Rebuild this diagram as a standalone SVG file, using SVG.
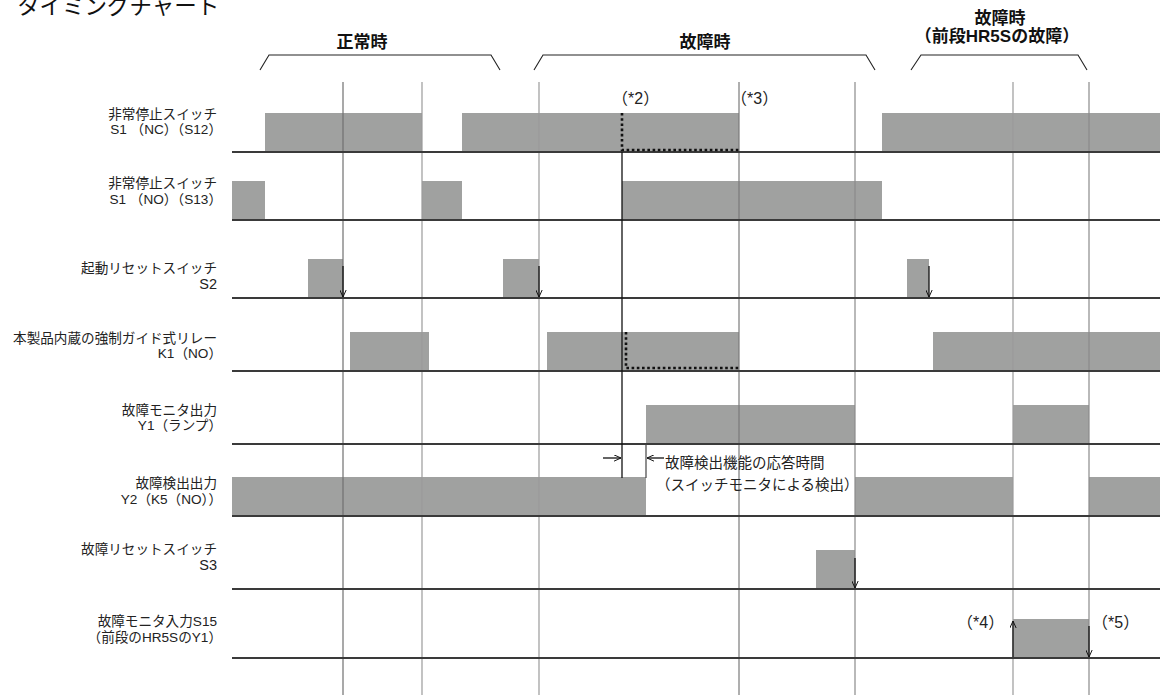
<svg xmlns="http://www.w3.org/2000/svg" width="1160" height="695" viewBox="0 0 1160 695">
<style>
text{font-family:"Liberation Sans","Noto Sans CJK JP",sans-serif;fill:#222}
.lbl{font-size:13.6px;text-anchor:end}
.hd{font-size:17px;font-weight:bold;text-anchor:middle;fill:#111}
.note{font-size:14.5px}
.mark{font-size:16px}
.bar{fill:#a0a1a0}
.base{stroke:#3a3a3a;stroke-width:2;fill:none}
.grid{stroke:#8a8a8a;stroke-width:1.2;fill:none}
.brk{stroke:#222;stroke-width:1.1;fill:none}
.arr{stroke:#111;stroke-width:1.3;fill:none;marker-end:url(#ah)}
.dot{stroke:#111;stroke-width:2.6;stroke-dasharray:2.6 2.6;fill:none}
</style>
<defs>
<marker id="ah" viewBox="0 0 10 10" refX="10" refY="5" markerWidth="8" markerHeight="7" markerUnits="userSpaceOnUse" orient="auto">
<path d="M0,0.5 L10,5 L0,9.5" fill="none" stroke="#111" stroke-width="1.4"/>
</marker>
</defs>
<rect width="1160" height="695" fill="#fff"/>
<text x="17" y="14" style="font-size:22.5px;fill:#111">タイミングチャート</text>
<g id="headers">
<text class="hd" x="362" y="48">正常時</text>
<polyline class="brk" points="260,70 269,55 491,55 500,70"/>
<text class="hd" x="705" y="48">故障時</text>
<polyline class="brk" points="534,70 543,55 866,55 875,70"/>
<text class="hd" x="1000" y="24">故障時</text>
<text class="hd" x="997" y="42">（前段HR5Sの故障）</text>
<polyline class="brk" points="911,70 921,55 1078,55 1087,70"/>
</g>
<g id="row-s12">
<rect class="bar" x="265" y="113" width="157" height="39"/>
<rect class="bar" x="462" y="113" width="277" height="39"/>
<rect class="bar" x="882" y="113" width="278" height="39"/>
<text class="lbl" x="217" y="119">非常停止スイッチ</text>
<text class="lbl" x="222" y="134">S1 （NC）（S12）</text>
</g>
<g id="row-s13">
<rect class="bar" x="232" y="181" width="33" height="39"/>
<rect class="bar" x="422" y="181" width="40" height="39"/>
<rect class="bar" x="622" y="181" width="260" height="39"/>
<text class="lbl" x="217" y="188">非常停止スイッチ</text>
<text class="lbl" x="222" y="204">S1 （NO）（S13）</text>
</g>
<g id="row-s2">
<rect class="bar" x="308" y="259" width="35" height="39"/>
<rect class="bar" x="503" y="259" width="36" height="39"/>
<rect class="bar" x="907" y="259" width="22" height="39"/>
<text class="lbl" x="217" y="273">起動リセットスイッチ</text>
<text class="lbl" x="217" y="289" style="font-size:14.5px">S2</text>
</g>
<g id="row-k1">
<rect class="bar" x="350" y="332" width="79" height="39"/>
<rect class="bar" x="547" y="332" width="192" height="39"/>
<rect class="bar" x="933" y="332" width="227" height="39"/>
<text class="lbl" x="217" y="343">本製品内蔵の強制ガイド式リレー</text>
<text class="lbl" x="222" y="358">K1（NO）</text>
</g>
<g id="row-y1">
<rect class="bar" x="646" y="405" width="209" height="39"/>
<rect class="bar" x="1013" y="405" width="76" height="39"/>
<text class="lbl" x="217" y="415">故障モニタ出力</text>
<text class="lbl" x="222" y="430">Y1（ランプ）</text>
</g>
<g id="row-y2">
<rect class="bar" x="232" y="477" width="414" height="39"/>
<rect class="bar" x="855" y="477" width="158" height="39"/>
<rect class="bar" x="1089" y="477" width="71" height="39"/>
<text class="lbl" x="217" y="488">故障検出出力</text>
<text class="lbl" x="222" y="504">Y2（K5（NO））</text>
</g>
<g id="row-s3">
<rect class="bar" x="816" y="550" width="39" height="39"/>
<text class="lbl" x="217" y="554">故障リセットスイッチ</text>
<text class="lbl" x="217" y="570" style="font-size:14.5px">S3</text>
</g>
<g id="row-s15">
<rect class="bar" x="1013" y="619" width="76" height="39"/>
<text class="lbl" x="217" y="626">故障モニタ入力S15</text>
<text class="lbl" x="222" y="642">（前段のHR5SのY1）</text>
</g>
<g id="grid">
<line class="grid" x1="343" y1="82" x2="343" y2="695" style="stroke:#707070"/>
<line class="grid" x1="422" y1="82" x2="422" y2="695" style="stroke:#9a9a9a"/>
<line class="grid" x1="539" y1="82" x2="539" y2="695" style="stroke:#9a9a9a"/>
<line class="grid" x1="739" y1="82" x2="739" y2="695" style="stroke:#7a7a7a"/>
<line class="grid" x1="855" y1="82" x2="855" y2="695"/>
<line class="grid" x1="1013" y1="82" x2="1013" y2="695" style="stroke:#9a9a9a"/>
<line class="grid" x1="1089" y1="82" x2="1089" y2="695"/>
</g>
<g id="baselines">
<line class="base" x1="232" y1="152" x2="1160" y2="152"/>
<line class="base" x1="232" y1="220" x2="1160" y2="220"/>
<line class="base" x1="232" y1="298" x2="1160" y2="298"/>
<line class="base" x1="232" y1="371" x2="1160" y2="371"/>
<line class="base" x1="232" y1="444" x2="1160" y2="444"/>
<line class="base" x1="232" y1="516" x2="1160" y2="516"/>
<line class="base" x1="232" y1="589" x2="1160" y2="589"/>
<line class="base" x1="232" y1="658" x2="1160" y2="658"/>
</g>
<g id="connectors">
<line x1="622" y1="152" x2="622" y2="478" stroke="#111" stroke-width="1.3"/>
<line x1="646" y1="444" x2="646" y2="478" stroke="#444" stroke-width="1.2"/>
<polyline class="dot" points="622,113 622,150 739,150"/>
<polyline class="dot" points="626,332 626,368 739,368"/>
<line class="arr" x1="343" y1="266" x2="343" y2="297"/>
<line class="arr" x1="539" y1="266" x2="539" y2="297"/>
<line class="arr" x1="929" y1="266" x2="929" y2="297"/>
<line class="arr" x1="855" y1="558" x2="855" y2="588"/>
<line class="arr" x1="1013" y1="657" x2="1013" y2="621"/>
<line class="arr" x1="1089" y1="626" x2="1089" y2="657"/>
<line class="arr" x1="603" y1="458" x2="621" y2="458"/>
<line class="arr" x1="664" y1="458" x2="647" y2="458"/>
</g>
<g id="notes">
<text class="mark" x="612" y="104">（*2）</text>
<text class="mark" x="731" y="104">（*3）</text>
<text class="mark" x="957" y="628">（*4）</text>
<text class="mark" x="1092" y="628">（*5）</text>
<text class="note" x="665" y="468">故障検出機能の応答時間</text>
<text class="note" x="656" y="490">（スイッチモニタによる検出）</text>
</g>
</svg>
